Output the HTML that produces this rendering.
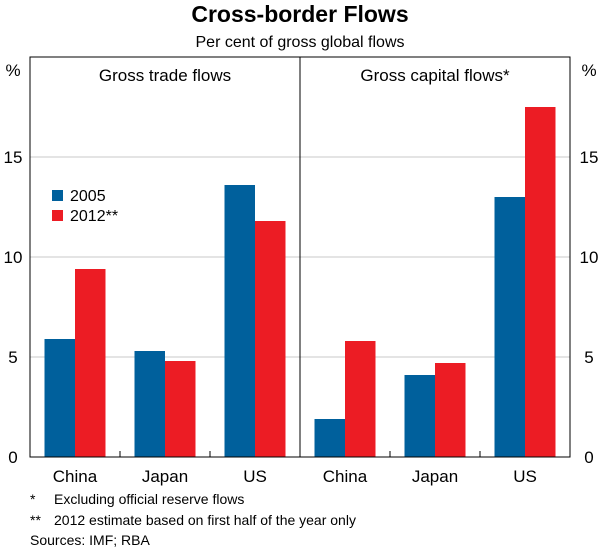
<!DOCTYPE html>
<html><head><meta charset="utf-8"><style>
body{margin:0;background:#fff;}
svg text{font-family:"Liberation Sans",Arial,sans-serif;fill:#000;}
</style></head><body>
<svg width="600" height="551" viewBox="0 0 600 551">
<text x="300" y="22" font-size="23" font-weight="bold" text-anchor="middle">Cross-border Flows</text>
<text x="300" y="47" font-size="16" text-anchor="middle">Per cent of gross global flows</text>
<g id="grid"></g>
<g id="bars"></g>
<rect x="30" y="57" width="540" height="400" fill="none" stroke="#000" stroke-width="1"/>
<line x1="300" y1="57" x2="300" y2="457" stroke="#000"/>
<g id="ticks"></g>
<text x="165" y="81" font-size="17" text-anchor="middle">Gross trade flows</text>
<text x="435" y="81" font-size="17" text-anchor="middle">Gross capital flows*</text>
<text x="13" y="76" font-size="17" text-anchor="middle">%</text>
<text x="589" y="76" font-size="17" text-anchor="middle">%</text>
<g>
<rect x="52" y="190" width="11" height="11" fill="#00609c"/>
<text x="70" y="201" font-size="16">2005</text>
<rect x="52" y="210" width="11" height="11" fill="#ec1c24"/>
<text x="70" y="221" font-size="16">2012**</text>
</g>
<g>
<text x="30" y="504" font-size="14">*</text>
<text x="54" y="504" font-size="14">Excluding official reserve flows</text>
<text x="30" y="525" font-size="14">**</text>
<text x="54" y="525" font-size="14">2012 estimate based on first half of the year only</text>
<text x="30" y="545" font-size="14">Sources: IMF; RBA</text>
</g>
</svg>
<script>
const categories=["China","Japan","US"];
const yTicks=[0,5,10,15];
const trade2005=[5.9,5.3,13.6];
const trade2012=[9.4,4.8,11.8];
const capital2005=[1.9,4.1,13.0];
const capital2012=[5.8,4.7,17.5];
const NS="http://www.w3.org/2000/svg";
const y0=457,yTop=57,yMax=20;
function yS(v){return y0-(v/yMax)*(y0-yTop);}
function mk(tag,attrs,parent){const e=document.createElementNS(NS,tag);for(const k in attrs)e.setAttribute(k,attrs[k]);document.getElementById(parent).appendChild(e);return e;}
yTicks.forEach(t=>{
  if(t>0){const g=mk('line',{x1:30,x2:570,y1:yS(t),y2:yS(t),stroke:'#c8c8c8'},'grid');
  
  }
  const l=mk('text',{x:13,y:yS(t)+6,'font-size':17,'text-anchor':'middle'},'ticks');l.textContent=t;
  
  
  const r=mk('text',{x:589,y:yS(t)+6,'font-size':17,'text-anchor':'middle'},'ticks');r.textContent=t;
  
  
});
function panel(x0,a,b,prefix){
  const w=90,bw=30.5;
  categories.forEach((c,i)=>{
    const cx=x0+w*i+w/2;
    const r1=mk('rect',{x:cx-bw,y:yS(a[i]),width:bw,height:y0-yS(a[i]),fill:'#00609c'},'bars');
    
    
    const r2=mk('rect',{x:cx,y:yS(b[i]),width:bw,height:y0-yS(b[i]),fill:'#ec1c24'},'bars');
    
    
    const t=mk('text',{x:cx,y:482,'font-size':17,'text-anchor':'middle'},'ticks');t.textContent=c;
    
    
    if(i>0){const tk=mk('line',{x1:x0+w*i,x2:x0+w*i,y1:y0,y2:y0-6,stroke:'#000'},'ticks');
    
    }
  });
}
panel(30,trade2005,trade2012,'trade');
panel(300,capital2005,capital2012,'capital');
</script>
</body></html>
